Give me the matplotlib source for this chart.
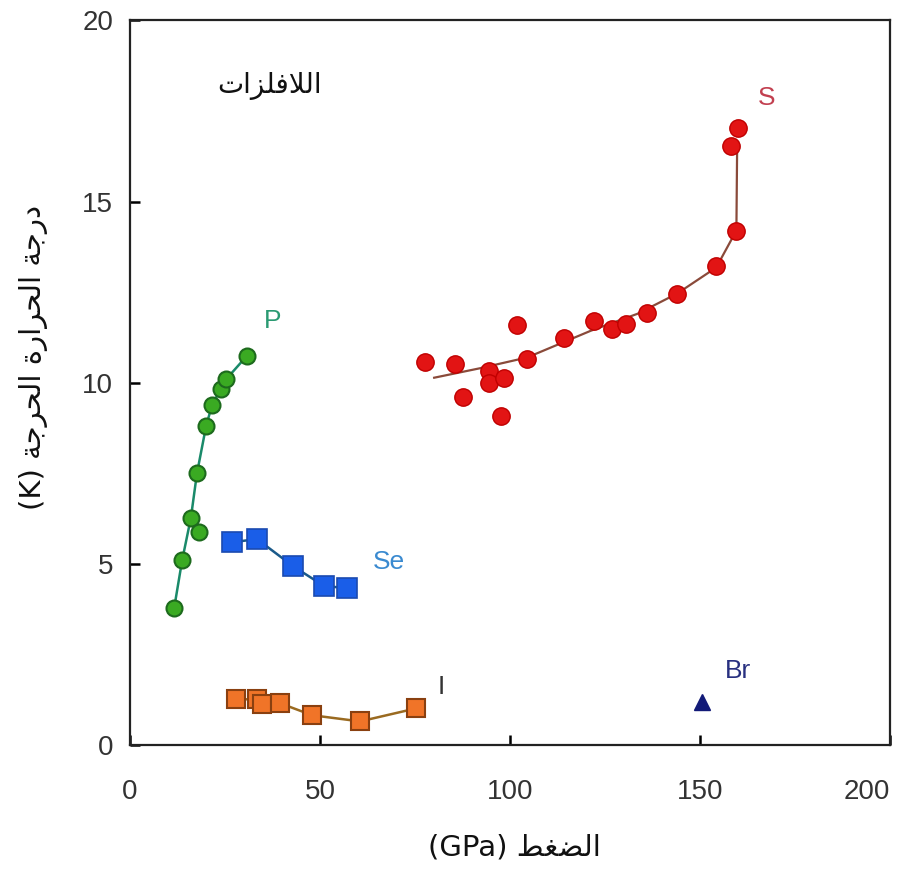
import matplotlib
matplotlib.use("Agg")
import matplotlib.pyplot as plt

# ---------------- data ----------------
P_x = [11.6, 13.7, 16.0, 18.2, 17.6, 20.0, 21.6, 23.9, 25.3, 30.8]
P_y = [3.78, 5.10, 6.27, 5.88, 7.50, 8.80, 9.40, 9.83, 10.10, 10.75]
P_on_line = [True, True, True, False, True, True, True, True, True, True]

Se_x = [26.8, 33.4, 42.9, 51.1, 57.1]
Se_y = [5.60, 5.69, 4.94, 4.39, 4.34]

I_x = [27.9, 33.4, 34.7, 39.5, 47.9, 60.5, 75.3]
I_y = [1.27, 1.27, 1.13, 1.16, 0.83, 0.66, 1.02]

S_x = [77.6, 85.5, 87.6, 94.5, 94.5, 98.4, 97.6, 101.8, 104.5, 114.2, 122.1,
       126.8, 130.5, 136.1, 143.9, 154.2, 159.5, 158.2, 160.0]
S_y = [10.58, 10.52, 9.61, 10.33, 10.00, 10.14, 9.09, 11.60, 10.66, 11.24, 11.70,
       11.49, 11.63, 11.93, 12.46, 13.23, 14.20, 16.52, 17.04]
S_fit_x = [80.0, 92.0, 104.5, 121.3, 133.4, 143.9, 154.2, 159.5, 159.7]
S_fit_y = [10.14, 10.40, 10.70, 11.44, 11.90, 12.46, 13.18, 14.20, 16.55]

Br_x = [150.5]
Br_y = [1.20]

x_ticks = [0, 50, 100, 150, 200]
y_ticks = [0, 5, 10, 15, 20]

title_text = "اللافلزات"
xlabel_ar = "الضغط"
xlabel_unit = "(GPa)"
ylabel_ar = "درجة الحرارة الحرجة"
ylabel_unit = "(K)"

# ------------- minimal Arabic shaping (presentation forms) -------------
FORMS = {
    'ا': ('\uFE8D', '\uFE8E', None, None),
    'ل': ('\uFEDD', '\uFEDE', '\uFEDF', '\uFEE0'),
    'ف': ('\uFED1', '\uFED2', '\uFED3', '\uFED4'),
    'ز': ('\uFEAF', '\uFEB0', None, None),
    'ت': ('\uFE95', '\uFE96', '\uFE97', '\uFE98'),
    'د': ('\uFEA9', '\uFEAA', None, None),
    'ر': ('\uFEAD', '\uFEAE', None, None),
    'ج': ('\uFE9D', '\uFE9E', '\uFE9F', '\uFEA0'),
    'ة': ('\uFE93', '\uFE94', None, None),
    'ح': ('\uFEA1', '\uFEA2', '\uFEA3', '\uFEA4'),
    'ض': ('\uFEBD', '\uFEBE', '\uFEBF', '\uFEC0'),
    'غ': ('\uFECD', '\uFECE', '\uFECF', '\uFED0'),
    'ط': ('\uFEC1', '\uFEC2', '\uFEC3', '\uFEC4'),
    'LA': ('\uFEFB', '\uFEFC', None, None),
}


def shape(text):
    chars = []
    i = 0
    while i < len(text):
        if text[i] == 'ل' and i + 1 < len(text) and text[i + 1] == 'ا':
            chars.append('LA')
            i += 2
        else:
            chars.append(text[i])
            i += 1
    out = []
    for k, c in enumerate(chars):
        if c not in FORMS:
            out.append(c)
            continue
        f = FORMS[c]
        prev = chars[k - 1] if k > 0 else None
        nxt = chars[k + 1] if k + 1 < len(chars) else None
        jp = prev in FORMS and FORMS[prev][2] is not None
        jn = nxt in FORMS and f[2] is not None
        if jp and jn:
            out.append(f[3])
        elif jp:
            out.append(f[1])
        elif jn:
            out.append(f[2])
        else:
            out.append(f[0])
    return ''.join(out)[::-1]


# ---------------- figure ----------------
fig = plt.figure(figsize=(9.03, 8.81), dpi=100)
ax = fig.add_axes([0.144, 0.154, 0.842, 0.823])

ax.set_xlim(0, 200)
ax.set_ylim(0, 20)

# P
Pl_x = [x for x, m in zip(P_x, P_on_line) if m]
Pl_y = [y for y, m in zip(P_y, P_on_line) if m]
ax.plot(Pl_x, Pl_y, color='#1a8a6a', lw=1.8, zorder=2)
ax.plot(P_x, P_y, 'o', ms=11.5, mfc='#3aaa22', mec='#1d6a1d', mew=1.5, zorder=3)

# Se
ax.plot(Se_x, Se_y, color='#1a5a8a', lw=1.8, zorder=2)
ax.plot(Se_x, Se_y, 's', ms=14, mfc='#1a5ee8', mec='#1a4ab0', mew=1.2, zorder=3)

# I
ax.plot(I_x, I_y, color='#9a6a20', lw=1.8, zorder=2)
ax.plot(I_x, I_y, 's', ms=13, mfc='#f07428', mec='#8a4010', mew=1.5, zorder=3)

# S
ax.plot(S_fit_x, S_fit_y, color='#8a4a3a', lw=1.6, zorder=2)
ax.plot(S_x, S_y, 'o', ms=12.5, mfc='#e21414', mec='#c00000', mew=1.0, zorder=3)

# Br
ax.plot(Br_x, Br_y, '^', ms=12, mfc='#121a78', mec='#121a78', zorder=3)

# element labels
lab_font = dict(family='Liberation Sans', fontsize=19)
ax.text(37.5, 11.7, 'P', color='#2a9a72', ha='center', va='center', **lab_font)
ax.text(68.2, 5.05, 'Se', color='#3a8ad0', ha='center', va='center', **lab_font)
ax.text(81.8, 1.6, 'I', color='#333333', ha='center', va='center', **lab_font)
ax.text(167.4, 17.85, 'S', color='#c24050', ha='center', va='center', **lab_font)
ax.text(159.8, 2.05, 'Br', color='#283080', ha='center', va='center', **lab_font)

ax.text(36.6, 18.2, shape(title_text), ha='center', va='center',
        fontsize=20, family='DejaVu Sans', color='#111111')

# axes styling
for s in ax.spines.values():
    s.set_linewidth(1.6)
    s.set_color('#222222')
ax.set_xticks(x_ticks)
ax.set_yticks(y_ticks)
ax.set_xticklabels([str(t) for t in x_ticks], family='Liberation Sans', fontsize=20, color='#333333')
ax.set_yticklabels([str(t) for t in y_ticks], family='Liberation Sans', fontsize=20, color='#333333')
xtl = ax.get_xticklabels()
xtl[-1].set_horizontalalignment('right')
ax.tick_params(axis='x', direction='in', length=7, width=1.8, pad=24, top=False)
ax.tick_params(axis='y', direction='in', length=7, width=1.8, pad=12, right=False)

ax.set_xlabel(xlabel_unit + ' ' + shape(xlabel_ar), fontsize=21, family='DejaVu Sans',
              color='#111111')
ax.xaxis.set_label_coords(0.505, -0.122)
ax.set_ylabel(ylabel_unit + ' ' + shape(ylabel_ar), fontsize=21, family='DejaVu Sans',
              color='#111111')
ax.yaxis.set_label_coords(-0.108, 0.535)

fig.savefig('out.png', dpi=100)
